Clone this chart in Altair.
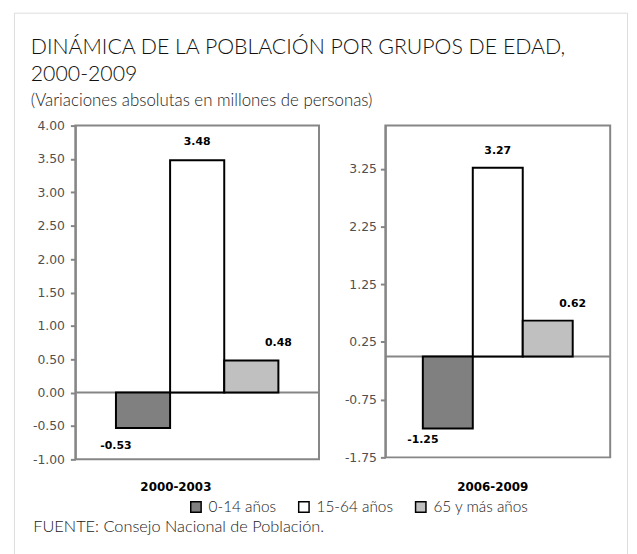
import altair as alt
import pandas as pd

# ---------------- data ----------------
grupos = ["0-14 años", "15-64 años", "65 y más años"]
colores = ["#808080", "#ffffff", "#c0c0c0"]

periodo1 = "2000-2003"
valores1 = [-0.53, 3.48, 0.48]
ticks1 = [-1.0, -0.5, 0.0, 0.5, 1.0, 1.5, 2.0, 2.5, 3.0, 3.5, 4.0]
dominio1 = [-1.0, 4.0]

periodo2 = "2006-2009"
valores2 = [-1.25, 3.27, 0.62]
ticks2 = [-1.75, -0.75, 0.25, 1.25, 2.25, 3.25]
dominio2 = [-1.75, 4.0]

titulo = ["DINÁMICA DE LA POBLACIÓN POR GRUPOS DE EDAD,", "2000-2009"]
subtitulo = "(Variaciones absolutas en millones de personas)"
fuente = "FUENTE: Consejo Nacional de Población."

# ---------------- layout ----------------
W, H = 619, 560
GRAY = "#868686"
HUMAN = "Lato"


def panel(periodo, valores, dominio, ticks, xr, yr, label_pad, dy_pos, dy_neg,
          title_x, legend, fuente_txt=None):
    df = pd.DataFrame({"grupo": grupos, "valor": valores})
    xs = alt.Scale(domain=grupos, range=xr, paddingInner=0, paddingOuter=0.75)
    ys = alt.Scale(domain=dominio, range=yr, nice=False, zero=False)
    xq = alt.Scale(domain=[0, 1], range=xr, nice=False, zero=False)

    fdf = pd.DataFrame({"x0": [0], "x1": [1], "y0": [dominio[0]], "y1": [dominio[1]]})
    zdf = pd.DataFrame({"x0": [0], "x1": [1], "y": [0.0]})

    frame = alt.Chart(fdf).mark_rect(fillOpacity=0, stroke=GRAY, strokeWidth=2).encode(
        x=alt.X("x0:Q", scale=xq, axis=None),
        x2="x1:Q",
        y=alt.Y("y0:Q", scale=ys, axis=None),
        y2="y1:Q",
    )

    if fuente_txt:
        zaxis = alt.Axis(orient="bottom", title=fuente_txt, labels=False, ticks=False,
                         domain=False, grid=False, titleX=19, titleY=519 - H,
                         titleAlign="left", titleBaseline="middle", titleFont=HUMAN,
                         titleFontSize=16.5, titleFontWeight=300, titleColor="#1a1a1a")
    else:
        zaxis = None

    zero = alt.Chart(zdf).mark_rule(color=GRAY, strokeWidth=2).encode(
        x=alt.X("x0:Q", scale=xq, axis=zaxis),
        x2="x1:Q",
        y=alt.Y("y:Q", scale=ys, axis=None),
    )

    bars = alt.Chart(df).mark_bar(stroke="black", strokeWidth=2).encode(
        x=alt.X("grupo:N", scale=xs, sort=grupos,
                axis=alt.Axis(orient="bottom", title=periodo, labels=False, ticks=False,
                              domain=False, grid=False, titleX=title_x, titleY=478 - H,
                              titleAlign="center", titleBaseline="middle",
                              titleFont="DejaVu Sans", titleFontSize=12,
                              titleFontWeight="bold", titleColor="black")),
        y=alt.Y("valor:Q", scale=ys,
                axis=alt.Axis(orient="left", offset=-xr[0], values=ticks, format=".2f",
                              domain=True, domainColor=GRAY, domainWidth=2,
                              grid=False, tickSize=5, tickColor=GRAY,
                              tickWidth=2, labelPadding=label_pad, labelFont="DejaVu Sans",
                              labelFontSize=12.5, labelColor="#505050", title=None)),
        color=alt.Color("grupo:N", sort=grupos,
                        scale=alt.Scale(domain=grupos, range=colores), legend=legend),
    )

    text = alt.Chart(df).mark_text(
        font="DejaVu Sans", fontSize=11, fontWeight="bold", color="black",
        baseline="middle", dy=alt.expr(f"datum.valor > 0 ? {dy_pos} : {dy_neg}"),
    ).encode(
        x=alt.X("grupo:N", scale=xs, sort=grupos, axis=None),
        y=alt.Y("valor:Q", scale=ys, axis=None),
        text=alt.Text("valor:Q", format=".2f"),
    )
    return [frame, zero, bars, text]


leyenda = alt.Legend(orient="none", legendX=176, legendY=491, direction="horizontal",
                     title=None, symbolType="square", symbolSize=110,
                     symbolStrokeColor="black", symbolStrokeWidth=1.5,
                     labelFont=HUMAN, labelFontSize=15.5, labelFontWeight=300,
                     labelColor="#1a1a1a", columnPadding=19, labelOffset=5)

capas = panel(periodo1, valores1, dominio1, ticks1, [62, 308], [451, 114], 6, -18, 18,
              163, leyenda, fuente) + \
        panel(periodo2, valores2, dominio2, ticks2, [375, 602], [449, 114], 4, -17, 12,
              483, None)

chart = alt.layer(*capas).resolve_scale(
    x="independent", y="independent"
).properties(
    width=W, height=H,
    autosize=alt.AutoSizeParams(type="none"),
    padding={"left": 6, "top": 2, "right": 2, "bottom": 2},
    title=alt.TitleParams(
        text=titulo, subtitle=subtitulo, anchor="start", frame="group", orient="top",
        font=HUMAN, fontSize=21.5, fontWeight=300, color="#111111", lineHeight=27,
        subtitleFont=HUMAN, subtitleFontSize=17, subtitleFontWeight=300,
        subtitleColor="#1a1a1a", subtitlePadding=8, dx=17, dy=97, offset=0,
    ),
).configure_view(
    stroke="#bababa", strokeWidth=4
).configure(
    background="white",
    locale={"number": {"decimal": ".", "thousands": ",", "grouping": [3],
                       "currency": ["$", ""], "minus": "-"}},
)

chart.save("out.html", embed_options={"renderer": "svg", "actions": False})
